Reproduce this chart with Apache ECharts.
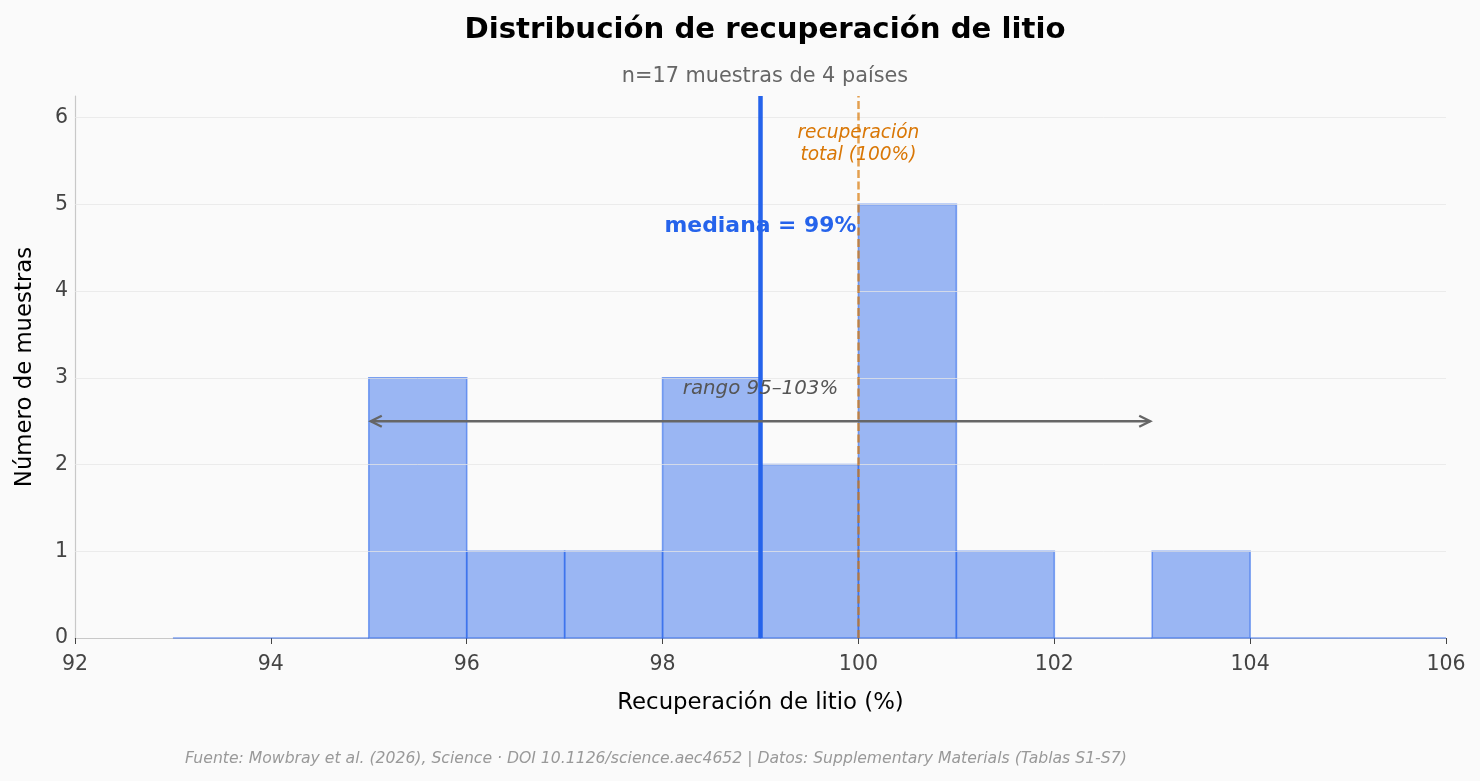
<!DOCTYPE html>
<html><head><meta charset="utf-8">
<script src="https://cdn.jsdelivr.net/npm/echarts@6/dist/echarts.min.js"></script>
<style>html,body{margin:0;padding:0;background:#fafafa;}#c{width:1480px;height:781px;}</style>
</head><body><div id="c"></div>
<script>
// ---- data ----
const binStarts = [93, 94, 95, 96, 97, 98, 99, 100, 101, 102, 103, 104, 105];
const binCounts = [0, 0, 3, 1, 1, 3, 2, 5, 1, 0, 1, 0, 0];
const binWidth = 1;
const medianValue = [99];
const fullRecovery = [100];
const rangeEnds = [95, 103];
const rangeArrowY = [2.5];
const yTicks = [1, 2, 3, 4, 5, 6];

const FONT = 'DejaVu Sans';
const chart = echarts.init(document.getElementById('c'), null, {renderer: 'canvas'});

const histData = binStarts.map((s, i) => [s, binCounts[i]]);

const option = {
  backgroundColor: '#fafafa',
  animation: false,
  textStyle: {fontFamily: FONT},
  title: [
    {text: 'Distribución de recuperación de litio', left: 760, top: 11, textAlign: 'center',
     textStyle: {fontFamily: FONT, fontSize: 29.2, fontWeight: 'bold', color: '#000'}},
    {text: 'n=17 muestras de 4 países', left: 760, top: 61, textAlign: 'center',
     textStyle: {fontFamily: FONT, fontSize: 20.8, fontWeight: 'normal', color: '#666'}}
  ],
  grid: {left: 75, right: 34, top: 96, bottom: 143, containLabel: false},
  xAxis: {
    type: 'value', min: 92, max: 106, interval: 2,
    name: 'Recuperación de litio (%)', nameLocation: 'middle', nameGap: 54,
    nameTextStyle: {fontFamily: FONT, fontSize: 22.8, color: '#000'},
    axisLine: {show: true, lineStyle: {color: '#c8c8c8', width: 1.2}},
    axisTick: {show: true, length: 6, lineStyle: {color: '#444'}},
    axisLabel: {fontFamily: FONT, fontSize: 20.5, color: '#444', margin: 16},
    splitLine: {show: false}
  },
  yAxis: {
    type: 'value', min: 0, max: 6.25, interval: 1,
    name: 'Número de muestras', nameLocation: 'middle', nameGap: 38, nameRotate: 90,
    nameTextStyle: {fontFamily: FONT, fontSize: 22.8, color: '#000'},
    axisLine: {show: true, lineStyle: {color: '#c8c8c8', width: 1.2}},
    axisTick: {show: false},
    axisLabel: {fontFamily: FONT, fontSize: 20.5, color: '#444', margin: 7,
      formatter: v => (Number.isInteger(v) ? String(v) : '')},
    splitLine: {show: false}
  },
  series: [
    {
      type: 'custom', name: 'hist', z: 2,
      data: histData,
      renderItem: function (params, api) {
        const s = api.value(0), c = api.value(1);
        const p0 = api.coord([s, 0]);
        const p1 = api.coord([s + binWidth, c]);
        return {
          type: 'rect',
          shape: {x: p0[0], y: p1[1], width: p1[0] - p0[0], height: p0[1] - p1[1]},
          style: {fill: 'rgba(37,99,235,0.45)', stroke: 'rgba(37,99,235,0.55)', lineWidth: 1.6}
        };
      }
    },
    {
      type: 'line', name: 'grid', data: [], z: 3, silent: true,
      markLine: {
        silent: true, symbol: 'none', animation: false,
        lineStyle: {color: 'rgba(230,230,230,0.75)', width: 1, type: 'solid'},
        label: {show: false},
        data: yTicks.map(v => ({yAxis: v}))
      }
    },
    {
      type: 'line', name: 'ref', data: [], z: 5, silent: true,
      markLine: {
        silent: true, symbol: 'none', animation: false, label: {show: false},
        data: [
          {xAxis: fullRecovery[0], lineStyle: {color: 'rgba(217,119,6,0.7)', width: 2.5, type: [8, 3.5]}},
          {xAxis: medianValue[0], lineStyle: {color: '#2563eb', width: 4.5, type: 'solid'}}
        ]
      }
    },
    {
      type: 'custom', name: 'range', z: 6, silent: true,
      data: [[rangeEnds[0], rangeEnds[1], rangeArrowY[0]]],
      renderItem: function (params, api) {
        const a = api.coord([api.value(0), api.value(2)]);
        const b = api.coord([api.value(1), api.value(2)]);
        const h = 12, w = 5.5;
        const st = {stroke: '#666', lineWidth: 2.4, fill: null};
        return {type: 'group', children: [
          {type: 'line', shape: {x1: a[0] + 2, y1: a[1], x2: b[0] - 2, y2: b[1]}, style: st},
          {type: 'polyline', shape: {points: [[a[0] + h + 1, a[1] - w], [a[0] + 2, a[1]], [a[0] + h + 1, a[1] + w]]}, style: st},
          {type: 'polyline', shape: {points: [[b[0] - h - 1, b[1] - w], [b[0] - 2, b[1]], [b[0] - h - 1, b[1] + w]]}, style: st}
        ]};
      }
    },
    {
      type: 'custom', name: 'labels', z: 7, silent: true,
      data: [[0]],
      renderItem: function (params, api) {
        const m = api.coord([medianValue[0], 4.75]);
        const r = api.coord([fullRecovery[0], 5.69]);
        const g = api.coord([(rangeEnds[0] + rangeEnds[1]) / 2, 2.87]);
        return {type: 'group', children: [
          {type: 'text', x: m[0], y: m[1], style: {text: 'mediana = 99%', fill: '#2563eb',
            font: 'bold 21.9px "DejaVu Sans"', align: 'center', verticalAlign: 'middle'}},
          {type: 'text', x: r[0], y: r[1], style: {text: 'recuperación\ntotal (100%)', fill: '#d97706',
            font: 'italic 18.6px "DejaVu Sans"', align: 'center', verticalAlign: 'middle', lineHeight: 22}},
          {type: 'text', x: g[0], y: g[1], style: {text: 'rango 95–103%', fill: '#555',
            font: 'italic 19.8px "DejaVu Sans"', align: 'center', verticalAlign: 'middle'}}
        ]};
      }
    }
  ],
  graphic: [
    {type: 'text', left: 185, top: 751, style: {
      text: 'Fuente: Mowbray et al. (2026), Science · DOI 10.1126/science.aec4652 | Datos: Supplementary Materials (Tablas S1-S7)',
      fill: '#999', font: 'italic 15.65px "DejaVu Sans"'}}
  ]
};
chart.setOption(option);
</script></body></html>
